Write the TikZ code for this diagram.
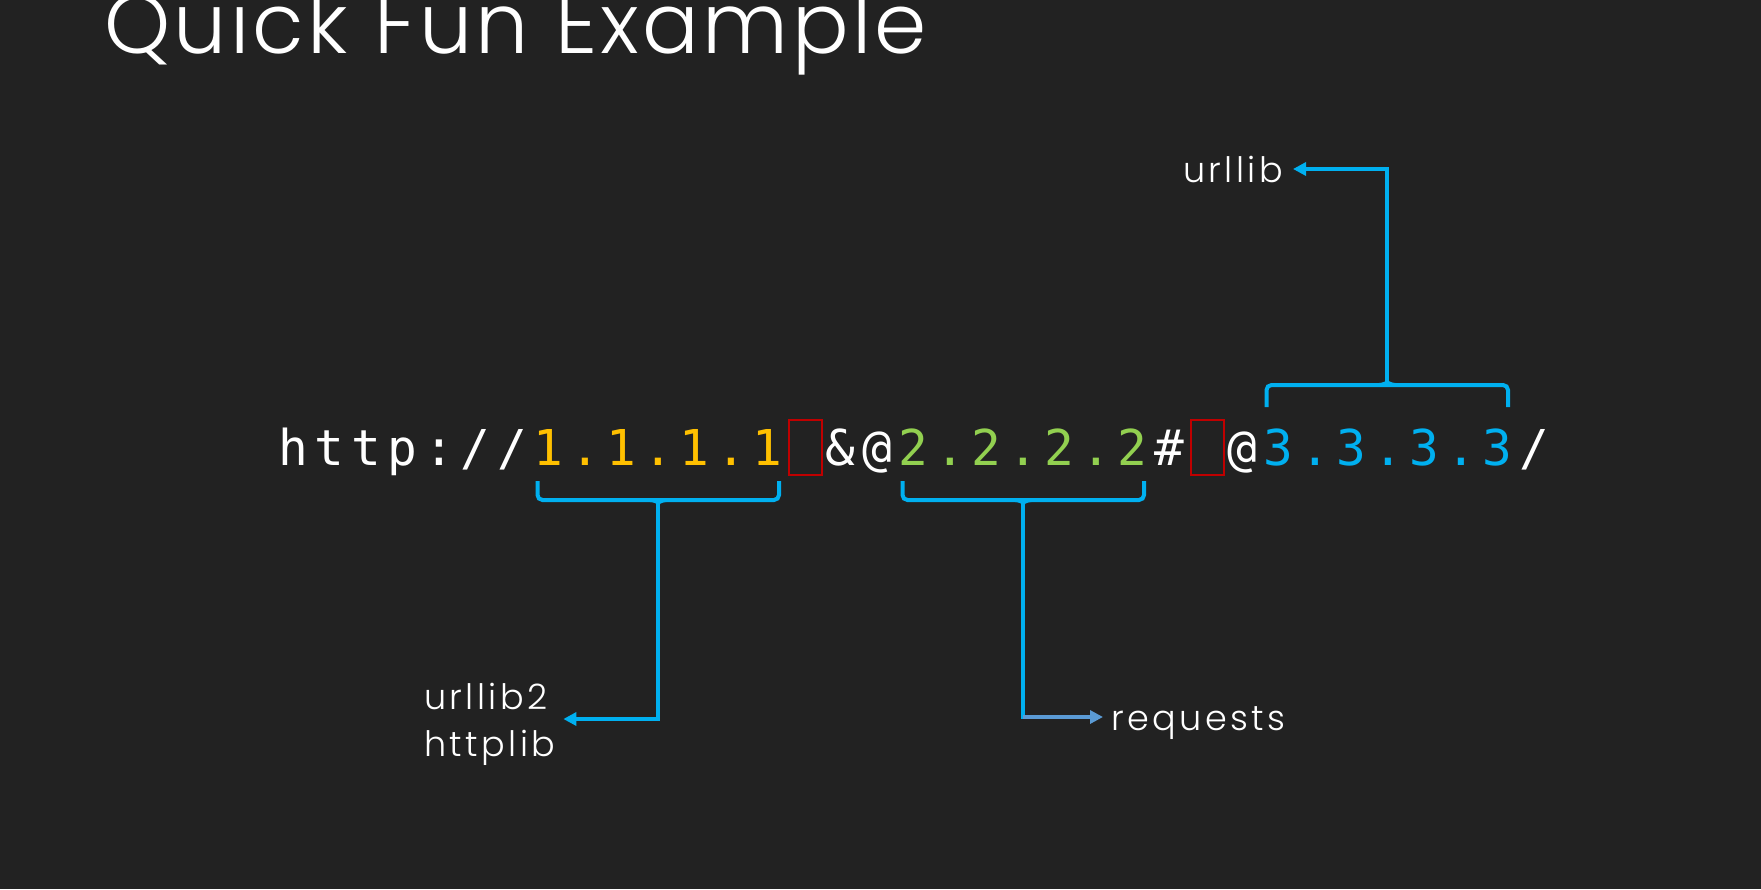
\documentclass[tikz,border=0pt]{standalone}
\usepackage{fontspec}
\usepackage{tikz}
\usetikzlibrary{arrows.meta, positioning}
\setmainfont{Poppins Light}
\newfontfamily\titlefont{Poppins Light}[LetterSpace=4]
\newfontfamily\codefont{DejaVu Sans Mono}
\newfontfamily\labelfont{Poppins Light}[LetterSpace=10]
\definecolor{slide}{HTML}{222222}
\definecolor{gold}{HTML}{FFC000}
\definecolor{lime}{HTML}{92D050}
\definecolor{sky}{HTML}{00B0F0}
\definecolor{steel}{HTML}{5B9BD5}
\definecolor{darkred}{HTML}{C00000}
\newcommand\monocells[1]{\monocellsloop#1\relax}
\def\monocellsloop#1{\ifx\relax#1\else\makebox[36.5pt]{#1}\expandafter\monocellsloop\fi}

\begin{document}
\begin{tikzpicture}[x=1pt, y=1pt]
      \tikzstyle{every node}+=[inner sep=0pt, outer sep=0pt]
      \tikzstyle{heading}=[font=\titlefont\fontsize{84}{100}\selectfont, text=white]
      \tikzstyle{code}=[font=\codefont\fontsize{49.4}{60}\selectfont, anchor=base west]
      \tikzstyle{gapbox}=[draw=darkred, line width=2pt, minimum width=33pt, minimum height=55pt]
      \tikzstyle{bracket}=[sky, line width=4pt, rounded corners=5pt]
      \tikzstyle{link}=[sky, line width=4pt, -{Triangle[length=13pt, width=13pt]}]
      \tikzstyle{lbl}=[font=\labelfont\fontsize{35}{47}\selectfont, text=white]
      \tikzstyle{tag}=[lbl, text height=26pt, text depth=0pt]
      \fill [slide] (0,0) rectangle (1761,-889);
      \useasboundingbox (0,0) rectangle (1761,-889);
      \node [heading, anchor=base west] (title) at (104,-53) {Quick Fun Example};
      \node [code, text=white] (scheme) at (275,-465) {\monocells{http://}};
      \node [code, text=gold] (hostA) at (scheme.base east) {\monocells{1.1.1.1}};
      \node [gapbox] (holeA) at ([xshift=19.5pt, yshift=17.5pt]hostA.base east) {};
      \node [code, text=white] (amp) at ([xshift=36.5pt]hostA.base east) {\monocells{\&@}};
      \node [code, text=lime] (hostB) at (amp.base east) {\monocells{2.2.2.2}};
      \node [code, text=white] (hash) at (hostB.base east) {\monocells{\#}};
      \node [gapbox] (holeB) at ([xshift=19.5pt, yshift=17.5pt]hash.base east) {};
      \node [code, text=white] (atsign) at ([xshift=36.5pt]hash.base east) {\monocells{@}};
      \node [code, text=sky] (hostC) at (atsign.base east) {\monocells{3.3.3.3}};
      \node [code, text=white] (slash) at (hostC.base east) {\monocells{/}};
      \coordinate (tipA) at ([yshift=-35pt]hostA.base);
      \coordinate (tipB) at ([yshift=-35pt]hostB.base);
      \coordinate (tipC) at ([xshift=-1pt, yshift=80pt]hostC.base);
      \draw [bracket] ([xshift=7pt, yshift=-16pt]hostA.base west) |- (tipA) -| ([xshift=-7pt, yshift=-16pt]hostA.base east);
      \draw [bracket] ([xshift=-8pt]tipA) to[out=0, in=90] ([yshift=-7pt]tipA) to[out=90, in=180] ([xshift=8pt]tipA);
      \draw [bracket] ([xshift=7pt, yshift=-16pt]hostB.base west) |- (tipB) -| ([xshift=-7pt, yshift=-16pt]hostB.base east);
      \draw [bracket] ([xshift=-8pt]tipB) to[out=0, in=90] ([yshift=-7pt]tipB) to[out=90, in=180] ([xshift=8pt]tipB);
      \draw [bracket] ([xshift=6pt, yshift=58pt]hostC.base west) |- (tipC) -| ([xshift=-8pt, yshift=58pt]hostC.base east);
      \draw [bracket] ([xshift=-8pt]tipC) to[out=0, in=-90] ([yshift=7pt]tipC) to[out=-90, in=180] ([xshift=8pt]tipC);
      \node [tag, anchor=base east] (lblC) at (1283,-182) {urllib};
      \node [lbl, align=left, anchor=west] (lblA) at (424,-724) {urllib2\\httplib};
      \node [tag, anchor=base west] (lblB) at (1111,-730) {requests};
      \draw [link] (tipC) |- ([xshift=10pt]lblC.east);
      \draw [link] (tipA) |- ([xshift=8pt, yshift=5pt]lblA.east);
      \coordinate (bendB) at (tipB |- lblB.west);
      \draw [sky, line width=4pt, line cap=rect] (tipB) -- (bendB);
      \draw [link, steel] (bendB) -- ([xshift=-8pt]lblB.west);
    \end{tikzpicture}
\end{document}
